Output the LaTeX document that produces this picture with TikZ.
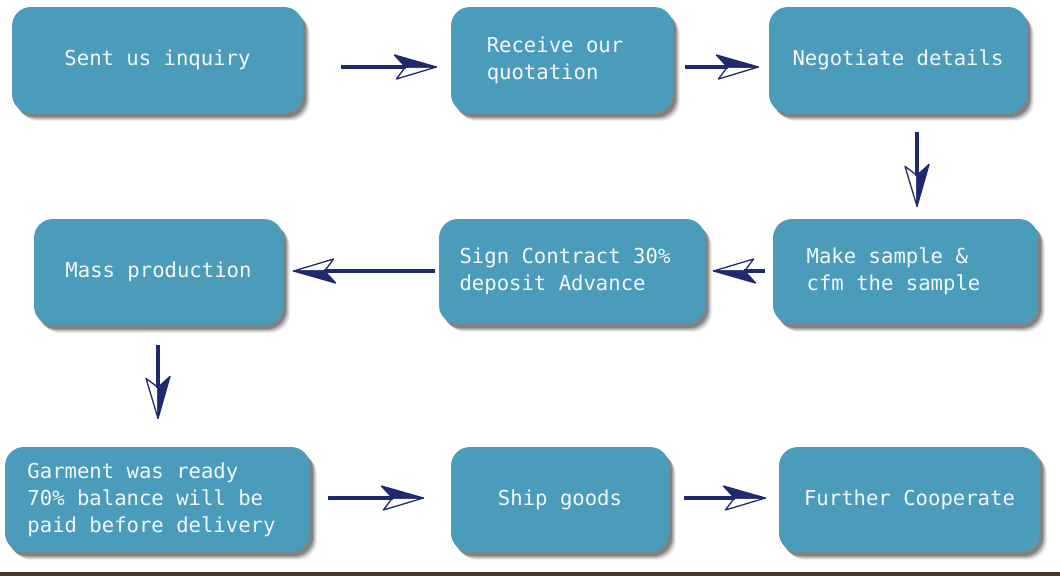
\documentclass[tikz,border=0pt]{standalone}
\usepackage{fontspec}
\setmonofont{DejaVu Sans Mono}
\usetikzlibrary{shadows,arrows.meta}
\definecolor{boxblue}{HTML}{4A9CBA}
\definecolor{arrowblue}{HTML}{1F2A6E}
\definecolor{txtwhite}{HTML}{F4F8FA}
\definecolor{barbrown}{HTML}{45372A}
\pgfdeclarearrow{
  name=HalfBarb,
  setup code={
    \pgfarrowssettipend{0.6pt}
    \pgfarrowssetlineend{-30pt}
    \pgfarrowssetbackend{-42pt}
    \pgfarrowssetvisualbackend{-30pt}
    \pgfarrowshullpoint{0pt}{0pt}
    \pgfarrowshullpoint{-42pt}{12pt}
    \pgfarrowshullpoint{-42pt}{-12pt}
  },
  drawing code={
    \pgfsetdash{}{0pt}
    \pgfsetroundjoin
    \pgfsetlinewidth{1.3pt}
    \pgfsetfillcolor{arrowblue}
    \pgfsetstrokecolor{arrowblue}
    \pgfpathmoveto{\pgfpoint{0pt}{0pt}}
    \pgfpathlineto{\pgfpoint{-42pt}{12pt}}
    \pgfpathlineto{\pgfpoint{-31pt}{0pt}}
    \pgfpathclose
    \pgfusepathqfillstroke
    \pgfpathmoveto{\pgfpoint{0pt}{0pt}}
    \pgfpathlineto{\pgfpoint{-40pt}{-12pt}}
    \pgfpathlineto{\pgfpoint{-31pt}{0pt}}
    \pgfpathclose
    \pgfusepathqstroke
  }
}
\tikzset{
  box/.style={rectangle, rounded corners=19pt, fill=boxblue, text=txtwhite,
    font=\ttfamily\fontsize{20.6}{27}\selectfont, align=left, inner sep=0pt,
    general shadow={shadow xshift=7pt, shadow yshift=-8pt, fill=black, opacity=0.06},
    general shadow={shadow xshift=6pt, shadow yshift=-7pt, fill=black, opacity=0.09},
    general shadow={shadow xshift=5pt, shadow yshift=-6pt, fill=black, opacity=0.12},
    general shadow={shadow xshift=4pt, shadow yshift=-5pt, fill=black, opacity=0.15},
    general shadow={shadow xshift=3pt, shadow yshift=-4pt, fill=black, opacity=0.2}},
  flow/.style={draw=arrowblue, line width=4pt, -HalfBarb}
}
\begin{document}
\begin{tikzpicture}[x=1pt,y=-1pt]
\useasboundingbox (0,0) rectangle (1060,576);
\fill[barbrown] (0,572) rectangle (1060,576);

\node[box, minimum width=291pt, minimum height=106pt] (b1) at (157.5,60) {Sent us inquiry};
\node[box, minimum width=222pt, minimum height=106pt] (b2) at (562,60) {Receive our\hspace*{14pt}\\quotation};
\node[box, minimum width=258pt, minimum height=106pt] (b3) at (898,60) {Negotiate details};
\node[box, minimum width=265pt, minimum height=105pt] (b4) at (905.5,271.5) {Make sample \&\\cfm the sample\hspace*{24pt}};
\node[box, minimum width=266pt, minimum height=105pt] (b5) at (572,271.5) {Sign Contract 30\%\hspace*{14pt}\\deposit Advance};
\node[box, minimum width=249pt, minimum height=106pt] (b6) at (158.5,272) {Mass production};
\node[box, minimum width=305pt, minimum height=105pt] (b7) at (157.5,499.5) {Garment was ready\\70\% balance will be\\paid before delivery\hspace*{12pt}};
\node[box, minimum width=218pt, minimum height=105pt] (b8) at (560,499.5) {Ship goods};
\node[box, minimum width=261pt, minimum height=105pt] (b9) at (909.5,499.5) {Further Cooperate};

\coordinate (a1s) at (341,67);  \coordinate (a1e) at (437,67);
\coordinate (a2s) at (685,67);  \coordinate (a2e) at (759,67);
\coordinate (a3s) at (917,132); \coordinate (a3e) at (917,207);
\coordinate (a4s) at (765,271); \coordinate (a4e) at (713,271);
\coordinate (a5s) at (435,271); \coordinate (a5e) at (293,271);
\coordinate (a6s) at (158,345); \coordinate (a6e) at (158,419);
\coordinate (a7s) at (328,498); \coordinate (a7e) at (424,498);
\coordinate (a8s) at (684,498); \coordinate (a8e) at (766,498);

\draw[flow] (a1s) -- (a1e);
\draw[flow] (a2s) -- (a2e);
\draw[flow] (a3s) -- (a3e);
\draw[flow] (a4s) -- (a4e);
\draw[flow] (a5s) -- (a5e);
\draw[flow] (a6s) -- (a6e);
\draw[flow] (a7s) -- (a7e);
\draw[flow] (a8s) -- (a8e);
\end{tikzpicture}
\end{document}
